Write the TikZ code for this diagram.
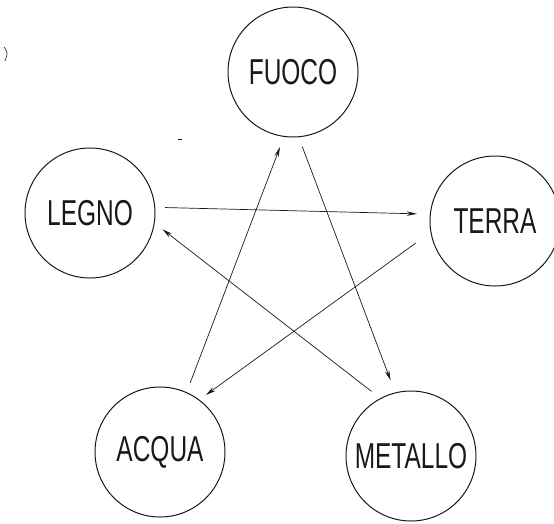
\documentclass[tikz,border=0pt]{standalone}
\usepackage{fontspec}
\usepackage{tikz}
\usetikzlibrary{arrows.meta}
\newfontfamily\elemfont[FakeStretch=0.68]{Liberation Sans}
\definecolor{inkDark}{RGB}{25,25,25}

\begin{document}
\begin{tikzpicture}[
    x=1pt, y=-1pt,
    every node/.style={font=\elemfont\fontsize{36}{42}\selectfont, text=inkDark},
    elemNode/.style={circle, draw=inkDark, line width=1pt, minimum size=130pt, inner sep=0pt},
    connArrow/.style={-{Stealth[length=10pt, width=4.5pt]}, line width=0.7pt, draw=inkDark}
]
\useasboundingbox (0,0) rectangle (554,523);

% Nodes
\node (fuoco) [elemNode] at (293,72) {FUOCO};
\node (legno) [elemNode] at (90,213) {LEGNO};
\node (terra) [elemNode] at (495,221) {TERRA};
\node (acqua) [elemNode] at (160,452) {ACQUA};
\node (metallo) [elemNode] at (411,456) {METALLO};

% Connectors
\draw [connArrow, shorten <=10pt, shorten >=13pt] (legno.5) -- (terra.174);
\draw [connArrow, shorten <=18pt, shorten >=8pt] (terra.190) -- (acqua.53);
\draw [connArrow, shorten <=10pt, shorten >=11pt] (acqua.66) -- (fuoco.262);
\draw [connArrow, shorten <=10pt, shorten >=13pt] (fuoco.275) -- (metallo.104);
\draw [connArrow, shorten <=11pt, shorten >=10pt] (metallo.118) -- (legno.-9);

% scan marks
\draw [inkDark, line width=0.6pt] (4,47) .. controls (8,53) .. (5,61);
\draw [inkDark, line width=1pt] (178,139) -- (182,139);

\end{tikzpicture}
\end{document}
